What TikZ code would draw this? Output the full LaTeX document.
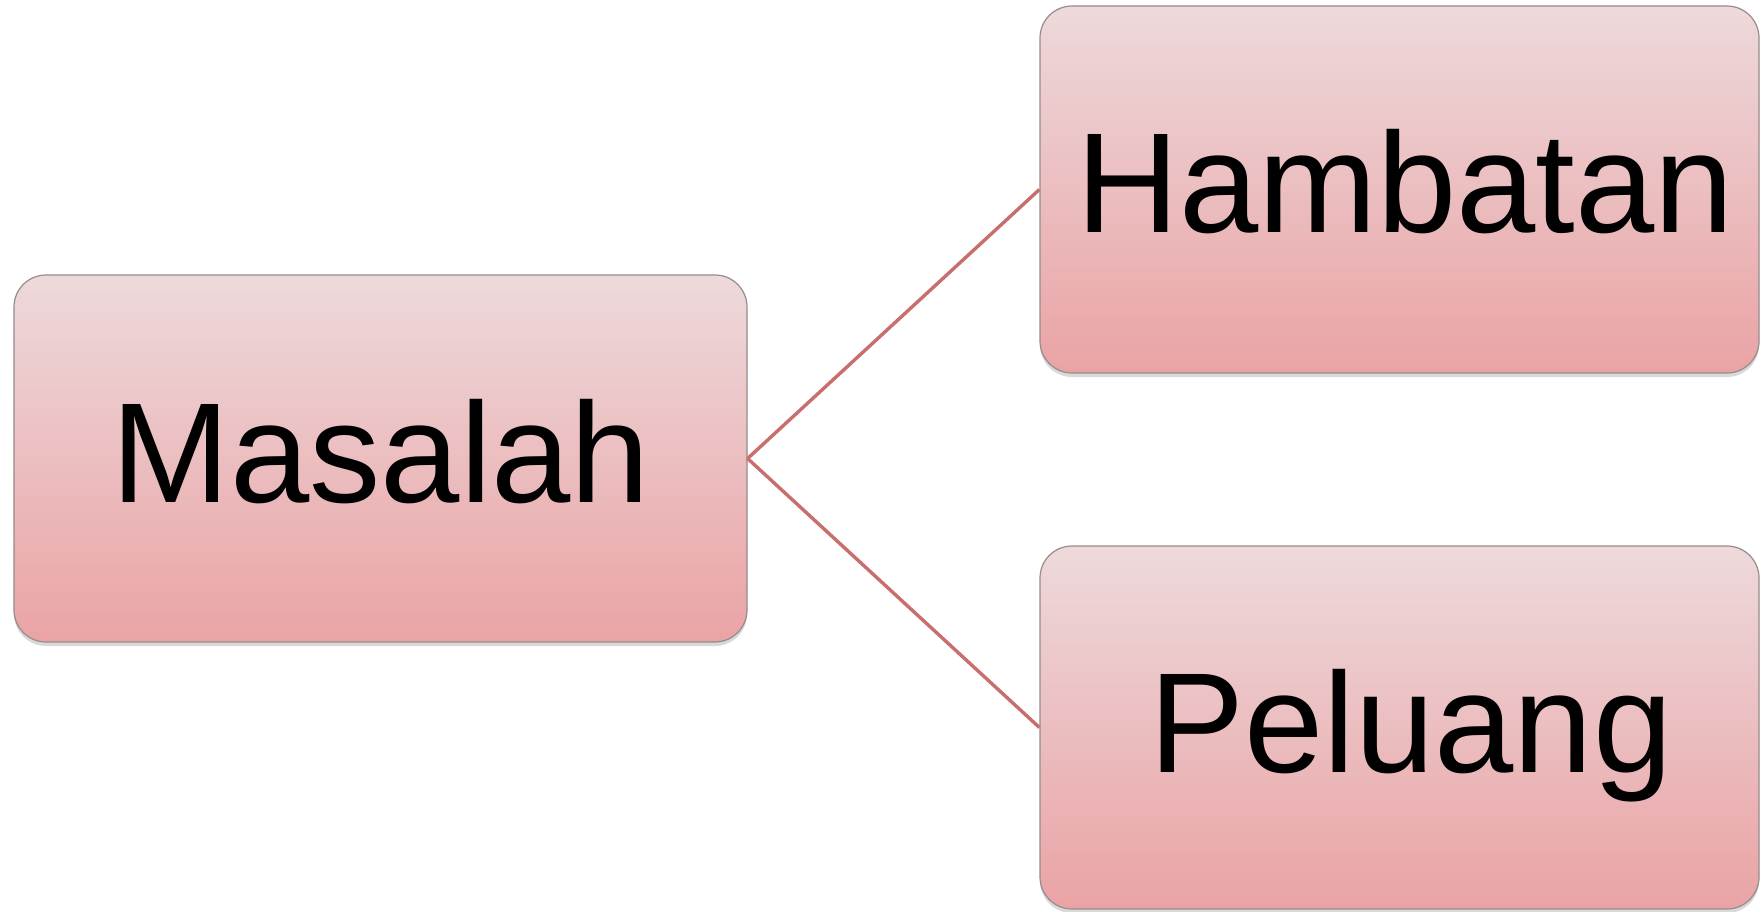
\documentclass[tikz,border=0pt]{standalone}
\usepackage{fontspec}
\setmainfont{Liberation Sans}
\usetikzlibrary{shadows}
\definecolor{boxtop}{RGB}{237,217,219}
\definecolor{boxbot}{RGB}{234,163,165}
\definecolor{boxedge}{RGB}{150,140,140}
\definecolor{linkcol}{RGB}{200,110,108}
\begin{document}
\begin{tikzpicture}[x=1bp,y=-1bp,
  box/.style={rectangle, rounded corners=32bp, draw=boxedge, line width=1.2bp,
    top color=boxtop, bottom color=boxbot, inner sep=0pt,
    drop shadow={shadow xshift=0bp, shadow yshift=-4bp, opacity=0.25, fill=black!60}},
  lbl/.style={anchor=base, inner sep=0pt, font=\fontsize{143}{150}\selectfont},
  link/.style={draw=linkcol, line width=3.4bp}]
\useasboundingbox (0,0) rectangle (1761,911);
\node[box, minimum width=733bp, minimum height=367bp] (m) at (380.5,458.5) {};
\node[box, minimum width=719bp, minimum height=367bp] (h) at (1399.5,189.5) {};
\node[box, minimum width=719bp, minimum height=363bp] (p) at (1399.5,727.5) {};
\draw[link] (m.east) -- (h.west);
\draw[link] (m.east) -- (p.west);
\node[lbl] (mt) at (381,502) {Masalah};
\node[lbl] (ht) at (1405,232.5) {Hambatan};
\node[lbl] (pt) at (1411,772.5) {Peluang};
\end{tikzpicture}
\end{document}
